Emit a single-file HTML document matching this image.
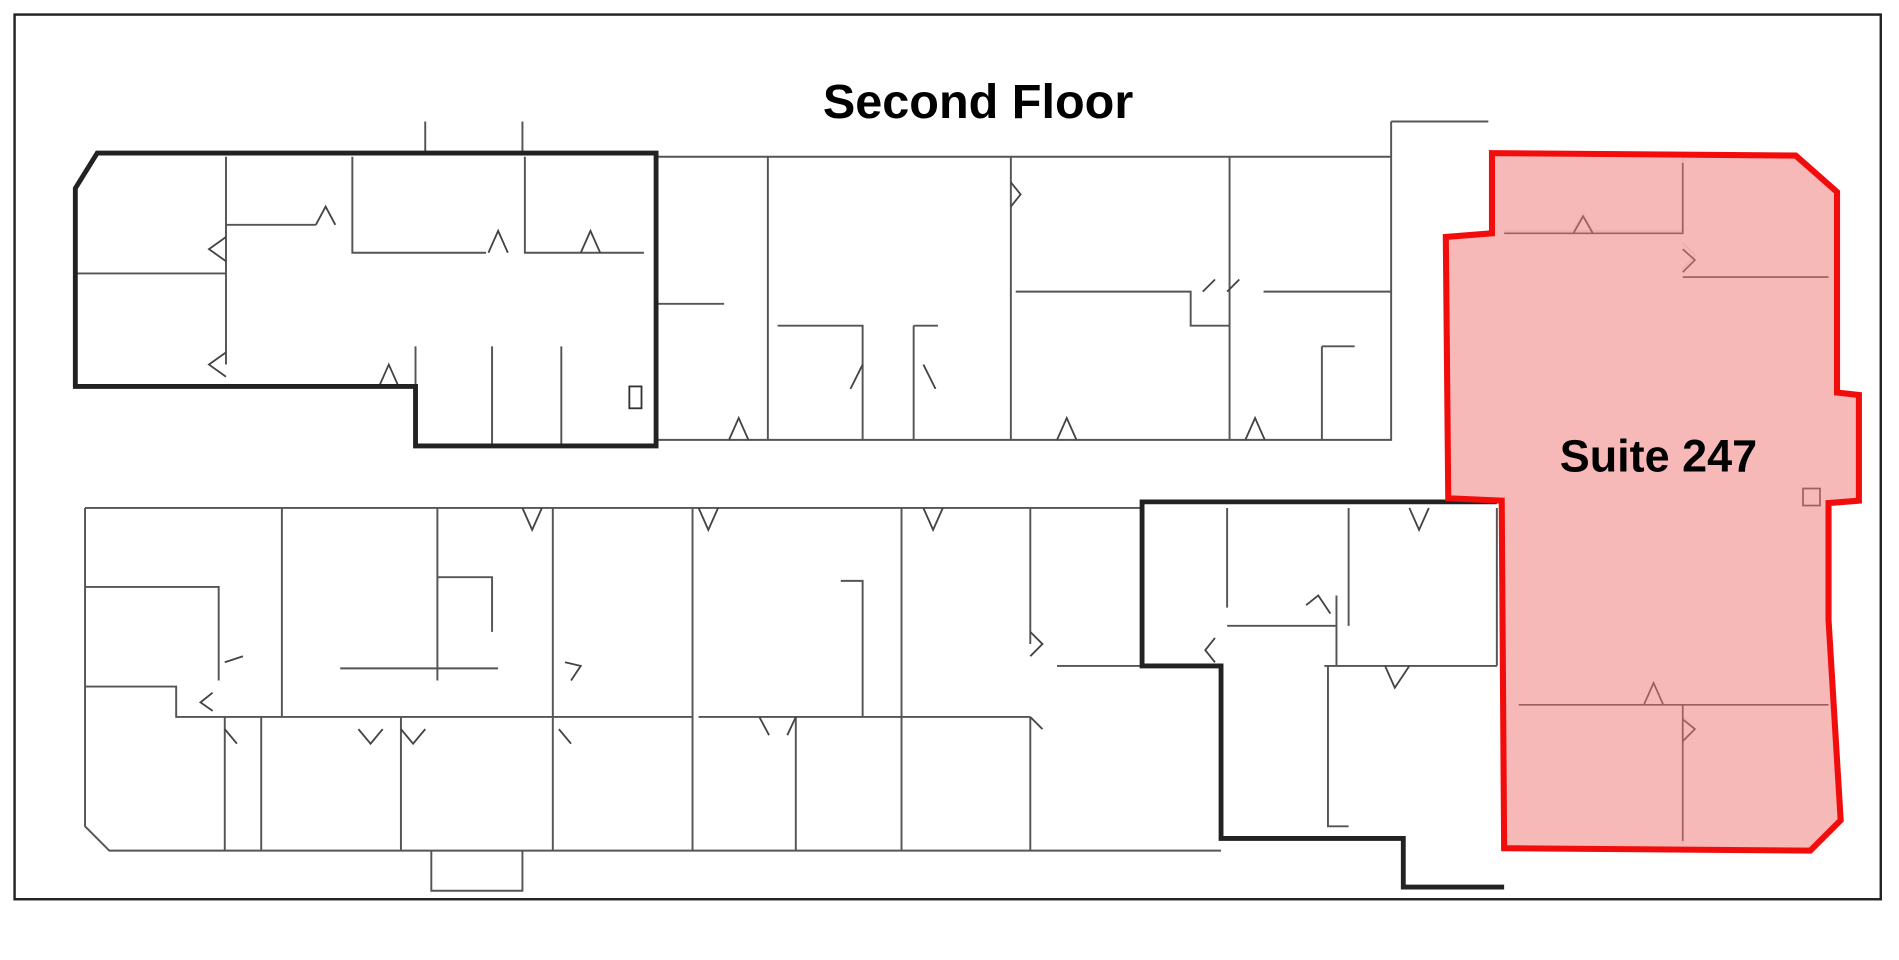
<!DOCTYPE html>
<html><head><meta charset="utf-8"><style>
html,body{margin:0;padding:0;background:#fff;}
svg{display:block;}
</style></head><body>
<svg width="1899" height="960" viewBox="0 0 1563 790" preserveAspectRatio="none" xmlns="http://www.w3.org/2000/svg">
<rect x="0" y="0" width="1563" height="790" fill="#fff"/>
<rect x="12" y="12" width="1536" height="728" fill="none" stroke="#222" stroke-width="2"/>
<text x="805" y="97" text-anchor="middle" font-family="Liberation Sans, sans-serif" font-weight="bold" font-size="40" fill="#000">Second Floor</text>

<!-- thin walls -->
<g stroke="#555" stroke-width="1.6" fill="none">
<!-- upper area -->
<path d="M540 129 H1145 V100 M1145 129 V362 H540"/>
<path d="M632 129 V362 M832 129 V362 M1012 129 V362 M1145 100 H1225"/>
<path d="M350 100 V126 M430 100 V126"/>
<path d="M540 250 H596"/>
<path d="M640 268 H710 V362 M752 268 H772 M752 268 V362"/>
<path d="M836 240 H980 V268 H1012 M1040 240 H1145 M1088 285 V362 M1088 285 H1115"/>
<path d="M186 129 V300 M186 185 H260 M290 129 V208 H400 M432 129 V208 H490 M432 208 H530 M62 225 H186"/>
<path d="M342 285 V367 M405 285 V367 M462 285 V367"/>
<!-- lower area -->
<path d="M70 418 H940 M70 418 V680 L90 700 H1005 M355 700 V733 H430 V700"/>
<path d="M232 418 V590 M360 418 V560 M360 475 H405 V520 M455 418 V590 M570 418 V700 M742 418 V700 M848 418 V530 M692 478 H710 V590"/>
<path d="M70 483 H180 V560 M70 565 H145 V590 H570 M185 590 V700 M215 590 V700 M330 590 V700 M455 590 V700 M655 590 V700 M848 590 V700 M575 590 H848 M280 550 H410"/>
<path d="M870 548 H940 M1100 490 V548 M1010 418 V500 M1010 515 H1100 M1110 418 V515"/>
<path d="M1093 548 V680 H1110 M1090 548 H1232 M1232 418 V548"/>
<!-- suite interior -->
<path d="M1238 190 H1385 V130 M1385 228 H1505 M1250 580 H1505 M1385 580 V695"/>
</g>

<!-- door swings -->
<g stroke="#444" stroke-width="1.5" fill="none">
<path d="M260 185 L268 170 L276 185 M402 208 L410 190 L418 208 M478 208 L486 190 L494 208 M186 195 L172 205 L186 215 M186 290 L172 300 L186 310 M312 318 L320 300 L328 318"/>
<path d="M600 362 L608 344 L616 362 M832 150 L840 160 L832 170 M990 240 L1000 230 M1010 240 L1020 230 M870 362 L878 344 L886 362 M1025 362 L1033 344 L1041 362"/>
<path d="M700 320 L710 300 M760 300 L770 320"/>
<path d="M430 418 L438 436 L446 418 M575 418 L583 436 L591 418 M760 418 L768 436 L776 418 M1160 418 L1168 436 L1176 418"/>
<path d="M185 545 L200 540 M175 570 L165 578 L175 585 M465 545 L478 548 L470 560 M185 600 L195 612 M295 600 L305 612 L315 600 M330 600 L340 612 L350 600 M460 600 L470 612"/>
<path d="M625 590 L633 605 M655 590 L648 605 M848 520 L858 530 L848 540 M848 590 L858 600 M1075 498 L1085 490 L1095 505 M1000 525 L992 535 L1000 545 M1140 548 L1148 566 L1160 548"/>
<path d="M1295 190 L1303 176 L1311 190 M1385 200 L1395 210 L1385 222 M1353 580 L1361 562 L1369 580 M1385 590 L1395 600 L1385 610"/>
</g>

<!-- thick outlines -->
<g stroke="#222" stroke-width="4" fill="none">
<path d="M80 126 H540 V367 H342 V318 H62 V155 Z"/>
<path d="M1232 413 H940 V548 H1005 V690 H1155 V730 H1238"/>
</g>
<rect x="518" y="318" width="10" height="18" fill="none" stroke="#333" stroke-width="1.5"/>

<!-- suite -->
<polygon points="1228,126 1478,128 1512,158 1512,323 1530,325 1530,412 1505,414 1505,510 1515,675 1490,700 1238,698 1236,412 1192,410 1190,195 1228,192" fill="#f7b4b4" fill-opacity="0.95" stroke="#f20d0d" stroke-width="5"/>
<g stroke="#8a4a4a" stroke-width="1.4" fill="none" opacity="0.8">
<path d="M1238 192 H1385 V134 M1385 228 H1505 M1250 580 H1505 M1385 580 V692"/>
<path d="M1295 192 L1303 178 L1311 192 M1385 205 L1395 214 L1385 224 M1353 580 L1361 562 L1369 580 M1385 592 L1395 600 L1385 610"/>
<rect x="1484" y="402" width="14" height="14"/>
</g>
<text x="1365" y="388" text-anchor="middle" font-family="Liberation Sans, sans-serif" font-weight="bold" font-size="37" fill="#000">Suite 247</text>
</svg>
</body></html>
